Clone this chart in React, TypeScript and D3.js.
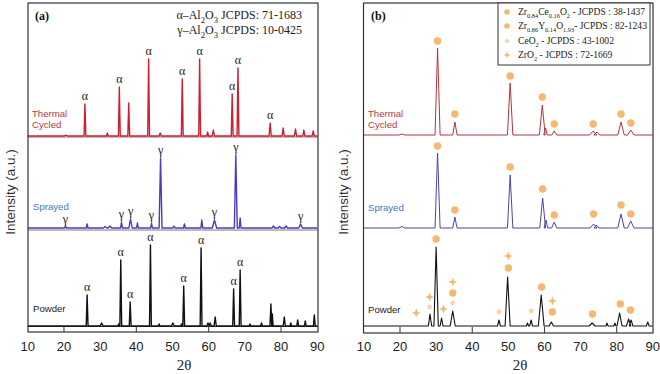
import React from 'react'
import * as d3 from 'd3'

// [2θ, intensity (a.u.), half width (deg), phase label]
type Peak = [number, number, number, string?]
// [2θ, height above pattern baseline (a.u.), marker kind]
type Mark = [number, number, string]

const TWO_THETA_TICKS = [10, 20, 30, 40, 50, 60, 70, 80, 90]
const MAJOR_TICKS = [20, 40, 60, 80]

// ---- panel (a): Al2O3 ----
const alThermal: Peak[] = [
  [20.5, 1, 0.4], [25.8, 32, 0.25, 'α'], [32.0, 3, 0.25], [35.3, 49, 0.25, 'α'], [37.9, 33, 0.25],
  [43.4, 77, 0.25, 'α'], [46.6, 3, 0.3], [52.7, 57, 0.25, 'α'], [57.5, 77, 0.25, 'α'], [59.7, 4, 0.25],
  [61.3, 6, 0.3], [66.5, 42, 0.25, 'α'], [68.1, 68, 0.25, 'α'], [77.0, 13, 0.3, 'α'], [80.6, 8, 0.3],
  [84.0, 7, 0.3], [86.3, 6, 0.3], [88.9, 5, 0.3],
]
const alSprayed: Peak[] = [
  [20.4, 1.5, 0.3, 'γ'], [26.4, 4, 0.25], [31.4, 1.5, 0.5], [32.7, 2, 0.5], [35.9, 6, 0.25, 'γ'],
  [38.4, 9, 0.45, 'γ'], [40.3, 5, 0.25], [44.2, 5, 0.25, 'γ'], [46.7, 70, 0.4, 'γ'], [50.4, 2, 0.3],
  [53.3, 4, 0.25], [58.1, 8, 0.25], [61.6, 8, 0.6, 'γ'], [67.5, 73, 0.4, 'γ'], [68.7, 10, 0.25],
  [77.9, 2, 0.4], [79.6, 1.5, 0.4], [81.4, 2, 0.4], [85.4, 4, 0.5, 'γ'],
]
const alPowder: Peak[] = [
  [26.4, 31, 0.25, 'α'], [30.4, 3, 0.4], [35.1, 2, 0.2], [35.7, 66, 0.25, 'α'], [38.3, 24, 0.25, 'α'],
  [43.9, 81, 0.25, 'α'], [46.3, 2, 0.2], [50.1, 3, 0.4], [52.5, 2, 0.2], [53.1, 40, 0.25, 'α'],
  [57.9, 78, 0.25, 'α'], [59.8, 3, 0.3], [60.4, 3, 0.3], [61.8, 9, 0.3], [66.9, 37, 0.25, 'α'],
  [68.7, 56, 0.25, 'α'], [71.4, 2, 0.2], [74.6, 3, 0.25], [77.2, 22, 0.25], [77.6, 12, 0.2],
  [80.9, 9, 0.3], [82.7, 3, 0.2], [84.6, 6, 0.25], [86.7, 5, 0.25], [89.2, 11, 0.25],
]

// ---- panel (b): zirconia top coat ----
const zrThermal: Peak[] = [
  [20.5, 1, 0.8], [30.4, 87, 0.7], [35.2, 13, 0.6], [50.5, 52, 0.75], [59.4, 30, 0.8], [60.3, 7, 0.5],
  [62.7, 4, 0.7], [73.5, 4, 1.0], [74.5, 3, 0.8], [81.2, 13, 0.9], [83.9, 5, 0.9],
]
const zrSprayed: Peak[] = [
  [20.5, 1.5, 0.8], [30.4, 75, 0.7], [35.2, 11, 0.6], [50.5, 53, 0.75], [59.5, 30, 0.8], [60.4, 8, 0.5],
  [62.7, 6, 0.7], [73.6, 4, 1.0], [74.4, 3, 0.7], [81.2, 14, 0.9], [83.9, 7, 0.9],
]
const zrPowder: Peak[] = [
  [28.3, 12, 0.45], [30.0, 79, 0.6], [31.5, 8, 0.4], [34.6, 15, 0.7], [47.4, 6, 0.4], [49.8, 49, 0.7],
  [55.3, 3, 0.3], [56.3, 6, 0.4], [59.1, 31, 0.8], [61.9, 4, 0.6], [73.2, 3, 0.8], [77.3, 3, 0.3],
  [79.5, 3, 0.3], [80.8, 13, 0.7], [83.3, 7, 0.6], [84.0, 6, 0.5], [88.6, 4, 0.4],
]

const zrThermalMarks: Mark[] = [
  [30.4, 94, 'dot'], [35.2, 21, 'dot'], [50.5, 59, 'dot'], [59.4, 38, 'dot'],
  [62.7, 11, 'dot'], [73.5, 11, 'dot'], [81.2, 21, 'dot'], [83.9, 12, 'dot'],
]
const zrSprayedMarks: Mark[] = [
  [30.4, 82, 'dot'], [35.2, 18, 'dot'], [50.5, 61, 'dot'], [59.5, 39, 'dot'],
  [62.7, 13, 'dot'], [73.6, 14, 'dot'], [81.2, 23, 'dot'], [83.9, 14, 'dot'],
]
const zrPowderMarks: Mark[] = [
  [24.5, 13, 'star'], [28.2, 29, 'star'], [28.2, 19, 'ce'], [30.0, 87, 'dot'], [32.0, 17, 'star'],
  [34.6, 44, 'star'], [34.6, 33, 'dot'], [34.6, 23, 'ce'], [47.4, 14, 'ce'], [50.0, 70, 'star'],
  [50.0, 58, 'dot'], [56.3, 15, 'ce'], [59.2, 39, 'dot'], [62.2, 25, 'star'], [62.2, 14, 'dot'],
  [73.3, 12, 'dot'], [81.0, 22, 'dot'], [83.8, 16, 'dot'],
]

const SANS = '"Liberation Sans", Arial, sans-serif'
const SERIF = '"Liberation Serif", "Times New Roman", serif'
const ORANGE = '#f6b870'
const PALE = '#f7d3b4'

const xA = d3.scaleLinear().domain([10, 90]).range([27.8, 317.2])
const xB = d3.scaleLinear().domain([10, 90]).range([363.9, 652.8])
const yS = d3.scaleLinear().domain([0, 323]).range([326, 3])

// turn peak list into profile vertices
function profile(peaks: Peak[]): [number, number][] {
  const pts: [number, number][] = [[10, 0]]
  peaks.forEach(([p, h, w]) => {
    pts.push([p - w, 0], [p, h], [p + w, 0])
  })
  pts.push([90, 0])
  return pts
}

function Pattern({ peaks, x, offset, color, width, labels }: {
  peaks: Peak[]; x: d3.ScaleLinear<number, number>; offset: number; color: string; width: number; labels?: boolean
}) {
  const lineFn = d3.line<[number, number]>()
    .x((d) => x(d[0]))
    .y((d) => yS(d[1] + offset))
  return (
    <g>
      <path d={lineFn(profile(peaks)) || ''} fill="none" stroke={color} strokeWidth={width} strokeLinejoin="round" />
      {labels && peaks.filter((p) => p[3]).map((p, i) => (
        <text key={i} x={x(p[0])} y={yS(p[1] + offset) - 4} textAnchor="middle"
          fontFamily={SERIF} fontSize={12} fill="#222">{p[3]}</text>
      ))}
    </g>
  )
}

function starPath(s: number) {
  const w = s * 0.28
  return `M0,${-s}L${w},${-w}L${s},0L${w},${w}L0,${s}L${-w},${w}L${-s},0L${-w},${-w}Z`
}

function Marker({ kind, cx, cy, small }: { kind: string; cx: number; cy: number; small?: boolean }) {
  if (kind === 'star') return <path d={starPath(small ? 3.5 : 4.5)} transform={`translate(${cx},${cy})`} fill={ORANGE} />
  if (kind === 'ce') return <circle cx={cx} cy={cy} r={small ? 2 : 2.4} fill={PALE} />
  return <circle cx={cx} cy={cy} r={small ? 2.8 : 3.7} fill={ORANGE} />
}

function Marks({ marks, offset }: { marks: Mark[]; offset: number }) {
  return (
    <g>
      {marks.map((m, i) => <Marker key={i} kind={m[2]} cx={xB(m[0])} cy={yS(m[1] + offset)} />)}
    </g>
  )
}

function XAxis({ x, bottom, tickLen, titleX }: { x: d3.ScaleLinear<number, number>; bottom: number; tickLen: number; titleX: number }) {
  return (
    <g>
      {MAJOR_TICKS.map((t) => (
        <line key={t} x1={x(t)} x2={x(t)} y1={bottom} y2={bottom - tickLen} stroke="#333" strokeWidth={1} />
      ))}
      {TWO_THETA_TICKS.map((t) => (
        <text key={t} x={x(t)} y={351} textAnchor="middle" fontFamily={SANS} fontSize={13} fill="#222">{t}</text>
      ))}
      <text x={titleX} y={370} textAnchor="middle" fontFamily={SERIF} fontSize={15} fill="#222">2θ</text>
    </g>
  )
}

function YTitle({ cx }: { cx: number }) {
  return (
    <text transform={`translate(${cx},192) rotate(-90)`} textAnchor="middle" fontFamily={SANS} fontSize={13.5} fill="#333">
      Intensity (a.u.)
    </text>
  )
}

// text pieces: [string, isSubscript]
function Rich({ parts, x, y, size, anchor, subScale = 0.72 }: {
  parts: [string, boolean][]; x: number; y: number; size: number; anchor?: string; subScale?: number
}) {
  let sub = false
  return (
    <text x={x} y={y} fontFamily={SERIF} fontSize={size} fill="#222" textAnchor={anchor || 'start'}>
      {parts.map(([s, isSub], i) => {
        let dy = 0
        if (isSub && !sub) dy = size * 0.3
        if (!isSub && sub) dy = -size * 0.3
        sub = isSub
        return <tspan key={i} dy={dy} fontSize={isSub ? size * subScale : size}>{s}</tspan>
      })}
    </text>
  )
}

const LEGEND: { kind: string; parts: [string, boolean][] }[] = [
  { kind: 'dot', parts: [['Zr', false], ['0.84', true], ['Ce', false], ['0.16', true], ['O', false], ['2', true], [' - JCPDS : 38-1437', false]] },
  { kind: 'dot', parts: [['Zr', false], ['0.86', true], ['Y', false], ['0.14', true], ['O', false], ['1.93', true], ['- JCPDS : 82-1243', false]] },
  { kind: 'ce', parts: [['CeO', false], ['2', true], [' - JCPDS : 43-1002', false]] },
  { kind: 'star', parts: [['ZrO', false], ['2', true], [' - JCPDS : 72-1669', false]] },
]
const LEGEND_Y = [15, 29, 44, 58]

function SampleLabel({ x, y, lines, color }: { x: number; y: number; lines: string[]; color: string }) {
  return (
    <text x={x} y={y} fontFamily={SANS} fontSize={9.6} fill={color}>
      {lines.map((l, i) => <tspan key={i} x={x} dy={i === 0 ? 0 : 11}>{l}</tspan>)}
    </text>
  )
}

export default function App() {
  const red = '#cf1f2e'
  const redB = '#b0353d'
  const blue = '#4a3cbf'
  const blueB = '#4b45ad'
  const labRed = '#b8393c'
  const labBlue = '#3c78c4'
  return (
    <svg width={660} height={374} style={{ position: 'absolute', left: 0, top: 0, background: '#fff' }}>
      {/* panel (a) */}
      <g>
        <line x1={28} x2={318} y1={137} y2={137} stroke="#555" strokeWidth={0.8} />
        <line x1={28} x2={318} y1={230} y2={230} stroke="#555" strokeWidth={0.8} />
        <line x1={28} x2={318} y1={326.5} y2={326.5} stroke="#333" strokeWidth={1} />
        <Pattern peaks={alThermal} x={xA} offset={190} color={red} width={1.4} labels />
        <Pattern peaks={alSprayed} x={xA} offset={98} color={blue} width={1.4} labels />
        <Pattern peaks={alPowder} x={xA} offset={0} color="#111" width={1.4} labels />
        <rect x={28} y={3} width={290} height={329} fill="none" stroke="#333" strokeWidth={1.2} />
        <XAxis x={xA} bottom={332} tickLen={6} titleX={184} />
        <YTitle cx={15} />
        <text x={35} y={20} fontFamily={SERIF} fontWeight="bold" fontSize={12} fill="#111">(a)</text>
        <Rich x={302} y={19} size={12} anchor="end" parts={[['α–Al', false], ['2', true], ['O', false], ['3', true], [' JCPDS: 71-1683', false]]} />
        <Rich x={302} y={34} size={12} anchor="end" parts={[['γ–Al', false], ['2', true], ['O', false], ['3', true], [' JCPDS: 10-0425', false]]} />
        <SampleLabel x={32} y={117} lines={['Thermal', 'Cycled']} color={labRed} />
        <SampleLabel x={33} y={210} lines={['Sprayed']} color={labBlue} />
        <SampleLabel x={33} y={312} lines={['Powder']} color="#222" />
      </g>
      {/* panel (b) */}
      <g>
        <Pattern peaks={zrThermal} x={xB} offset={191} color={redB} width={1} />
        <Pattern peaks={zrSprayed} x={xB} offset={98} color={blueB} width={1} />
        <Pattern peaks={zrPowder} x={xB} offset={0} color="#111" width={1.1} />
        <Marks marks={zrThermalMarks} offset={191} />
        <Marks marks={zrSprayedMarks} offset={98} />
        <Marks marks={zrPowderMarks} offset={0} />
        <rect x={363.5} y={3} width={289.5} height={330} fill="none" stroke="#333" strokeWidth={1.2} />
        <XAxis x={xB} bottom={333} tickLen={6} titleX={520} />
        <YTitle cx={348} />
        <text x={371} y={20} fontFamily={SERIF} fontWeight="bold" fontSize={12} fill="#111">(b)</text>
        <rect x={498} y={3} width={152} height={62} fill="#fff" stroke="#333" strokeWidth={1} />
        {LEGEND.map((e, i) => (
          <g key={i}>
            <Marker kind={e.kind} cx={507} cy={LEGEND_Y[i] - 3} small />
            <Rich x={518} y={LEGEND_Y[i]} size={9.6} subScale={0.66} parts={e.parts} />
          </g>
        ))}
        <SampleLabel x={368} y={117} lines={['Thermal', 'Cycled']} color={labRed} />
        <SampleLabel x={368} y={211} lines={['Sprayed']} color={labBlue} />
        <SampleLabel x={368} y={313} lines={['Powder']} color="#222" />
      </g>
    </svg>
  )
}
